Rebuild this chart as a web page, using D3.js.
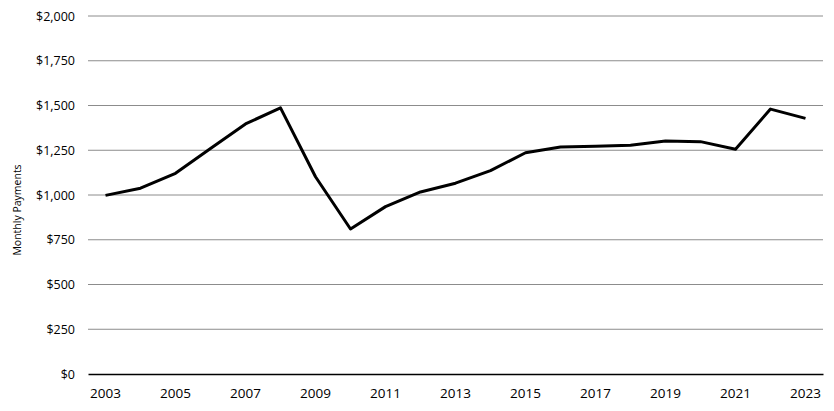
<!DOCTYPE html>
<html>
<head>
<meta charset="utf-8">
<script src="https://cdn.jsdelivr.net/npm/d3@7"></script>
<style>
  body { margin: 0; background: #fff; }
  text { font-family: "Open Sans", "Liberation Sans", sans-serif; fill: #000; }
</style>
</head>
<body>
<svg id="chart" width="834" height="411"></svg>
<script>
// values
const years = ["2003","2004","2005","2006","2007","2008","2009","2010","2011","2012","2013",
  "2014","2015","2016","2017","2018","2019","2020","2021","2022","2023"];
const payments = [998, 1038, 1121, 1260, 1397, 1487, 1102, 810, 935, 1017, 1066,
  1136, 1236, 1268, 1273, 1278, 1302, 1298, 1256, 1480, 1428];
const yTicks = [0, 250, 500, 750, 1000, 1250, 1500, 1750, 2000];
const xTickLabels = years.filter((d, i) => i % 2 === 0);

var svg = d3.select("#chart");
// plot area edges (note: "top" is a reserved window prop, so prefixed)
var plotLeft = 88, plotRight = 823, plotTop = 16, plotBottom = 374;

var x = d3.scaleBand().domain(years).range([plotLeft, plotRight]);
var y = d3.scaleLinear().domain([0, 2000]).range([plotBottom, plotTop]);

// gridlines
svg.append("g")
  .selectAll("line")
  .data(yTicks.filter(d => d > 0))
  .join("line")
  .attr("x1", plotLeft).attr("x2", plotRight)
  .attr("y1", d => y(d)).attr("y2", d => y(d))
  .attr("stroke", "#8c8c8c")
  .attr("stroke-width", 1);

// y axis labels
var yAxis = svg.append("g")
  .attr("transform", `translate(${plotLeft - 2},0)`)
  .call(d3.axisLeft(y).tickValues(yTicks).tickSize(0).tickPadding(11)
    .tickFormat(d => "$" + d3.format(",")(d)));
yAxis.select(".domain").remove();
yAxis.selectAll("text").style("font-size", "12.5px").style("font-family", "'Open Sans', sans-serif");

// x axis
var xAxis = svg.append("g")
  .attr("transform", `translate(0,${plotBottom})`)
  .call(d3.axisBottom(x).tickValues(xTickLabels).tickSize(0).tickPadding(14));
xAxis.select(".domain").attr("stroke", "#000").attr("stroke-width", 1.5);
xAxis.selectAll("text").style("font-size", "13.5px").style("font-family", "'Open Sans', sans-serif");

svg.append("text")
  .attr("transform", `translate(21,${(plotTop + plotBottom) / 2 + 15}) rotate(-90)`)
  .attr("text-anchor", "middle")
  .style("font-size", "10.5px")
  .text("Monthly Payments");

var line = d3.line()
  .x((d, i) => x(years[i]) + x.bandwidth() / 2)
  .y(d => y(d));

svg.append("path")
  .datum(payments)
  .attr("d", line)
  .attr("fill", "none")
  .attr("stroke", "#000")
  .attr("stroke-width", 3)
  .attr("stroke-linejoin", "round");
</script>
</body>
</html>
